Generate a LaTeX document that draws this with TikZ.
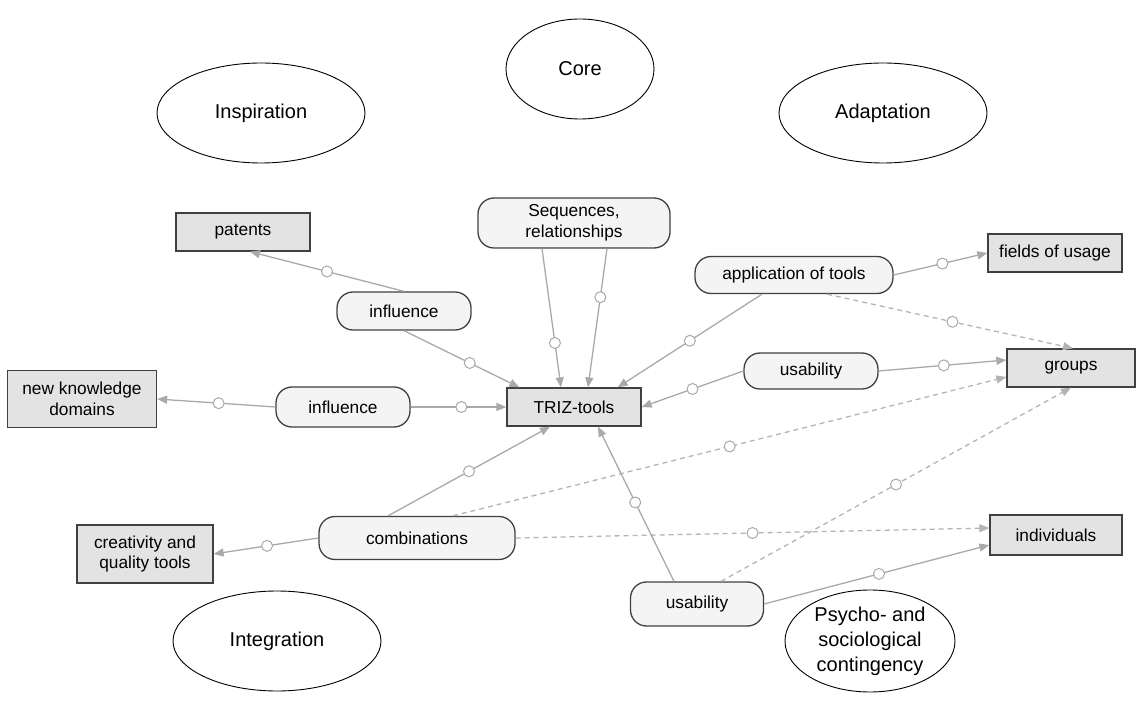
\documentclass[tikz,border=0pt]{standalone}
\usepackage{fontspec}
\setmainfont{Liberation Sans}
\usetikzlibrary{arrows.meta,shapes.geometric}

\definecolor{boxline}{HTML}{404040}
\definecolor{boxfill}{HTML}{E3E3E3}
\definecolor{relfill}{HTML}{F4F4F4}
\definecolor{linegray}{HTML}{A9A9A9}
\definecolor{dashgray}{HTML}{B4B4B4}

\begin{document}
\begin{tikzpicture}[x=1pt,y=-1pt,
  zone/.style={ellipse,draw=black,line width=0.9pt,fill=white,minimum width=208pt,
    minimum height=100pt,inner sep=0pt,align=center,font=\fontsize{20}{25}\selectfont},
  thing/.style={rectangle,draw=boxline,line width=1.3pt,fill=boxfill,minimum width=134pt,
    minimum height=38pt,inner sep=2pt,align=center,font=\fontsize{17.3}{20.5}\selectfont},
  rel/.style={rectangle,rounded corners=16pt,draw=boxline,line width=1.3pt,fill=relfill,
    minimum width=134pt,minimum height=38pt,inner sep=2pt,align=center,font=\fontsize{17.3}{20.5}\selectfont},
  link/.style={draw=linegray,line width=1.3pt,-{Triangle[length=10pt,width=8pt]}},
  maybe/.style={link,draw=dashgray,dash pattern=on 5pt off 4pt},
  knob/.style={circle,draw=linegray,fill=white,line width=1pt,solid,minimum size=11pt,inner sep=0pt}]

\useasboundingbox (0,0) rectangle (1136,727);

% the five zones
\draw (580,69)  node (core) [zone,minimum width=148pt] {Core};
\draw (261,113) node (insp) [zone] {Inspiration};
\draw (883,113) node (adap) [zone] {Adaptation};
\draw (277,641) node (integ) [zone] {Integration};
\draw (870,641) node (psy) [zone,minimum width=170pt,minimum height=102pt] {Psycho- and\\sociological\\contingency};

% objects
\draw (574,407)  node (triz)    [thing] {TRIZ-tools};
\draw (243,232)  node (patents) [thing] {patents};
\draw (82,399)   node (newknow) [thing,minimum width=149pt,minimum height=57pt] {new knowledge\\domains};
\draw (145,554)  node (creat)   [thing,minimum width=136pt,minimum height=58pt] {creativity and\\quality tools};
\draw (1055,253) node (fields)  [thing] {fields of usage};
\draw (1071,368) node (groups)  [thing,minimum width=128pt] {groups};
\draw (1056,535) node (indiv)   [thing,minimum width=132pt,minimum height=40pt] {individuals};

% relations
\draw (404,311) node (infl1) [rel] {influence};
\draw (343,407) node (infl2) [rel,minimum height=40pt] {influence};
\draw (574,223) node (seq)   [rel,minimum width=192pt,minimum height=50pt] {Sequences,\\relationships};
\draw (794,275) node (app)   [rel,minimum width=198pt,minimum height=37pt] {application of tools};
\draw (811,371) node (usab1) [rel,minimum height=36pt] {usability};
\draw (417,538) node (comb)  [rel,minimum width=196pt,minimum height=43pt] {combinations};
\draw (697,604) node (usab2) [rel,minimum width=133pt,minimum height=44pt] {usability};

% connectors
\draw[link] (infl1.north) -- node[knob,pos=0.5]{} ([xshift=7pt]patents.south);
\draw[link] (infl1.south) -- node[knob,pos=0.57]{} ([xshift=13pt]triz.north west);
\draw[link] (infl2.west) -- node[knob,pos=0.48]{} (newknow.east);
\draw[link] (infl2.east) -- node[knob,pos=0.53]{} (triz.west);
\draw[link] ([xshift=-32pt]seq.south) -- node[knob,pos=0.68]{} ([xshift=-13pt]triz.north);
\draw[link] ([xshift=33pt]seq.south) -- node[knob,pos=0.35]{} ([xshift=14pt]triz.north);
\draw[link] ([xshift=-32pt]app.south) -- node[knob,pos=0.5]{} ([xshift=-24pt]triz.north east);
\draw[link] (usab1.west) -- node[knob,pos=0.5]{} (triz.east);
\draw[link] (app.east) -- node[knob,pos=0.52]{} (fields.west);
\draw[maybe] ([xshift=33pt]app.south) -- node[knob,pos=0.51]{} ([xshift=2pt]groups.north);
\draw[link] (usab1.east) -- node[knob,pos=0.51]{} ([yshift=8pt]groups.west);
\draw[link] (comb.west) -- node[knob,pos=0.49]{} (creat.east);
\draw[link] ([xshift=-29pt]comb.north) -- node[knob,pos=0.5]{} ([xshift=-24pt]triz.south);
\draw[maybe] ([xshift=36pt]comb.north) -- node[knob,pos=0.5]{} ([yshift=-9pt]groups.west);
\draw[maybe] (comb.east) -- node[knob,pos=0.5]{} ([yshift=7pt]indiv.west);
\draw[link] ([xshift=-23pt]usab2.north) -- node[knob,pos=0.51]{} ([xshift=24pt]triz.south);
\draw[link] (usab2.east) -- node[knob,pos=0.51]{} ([yshift=-10pt]indiv.west);
\draw[maybe] ([xshift=24pt]usab2.north) -- node[knob,pos=0.5]{} (groups.south);

\end{tikzpicture}
\end{document}
